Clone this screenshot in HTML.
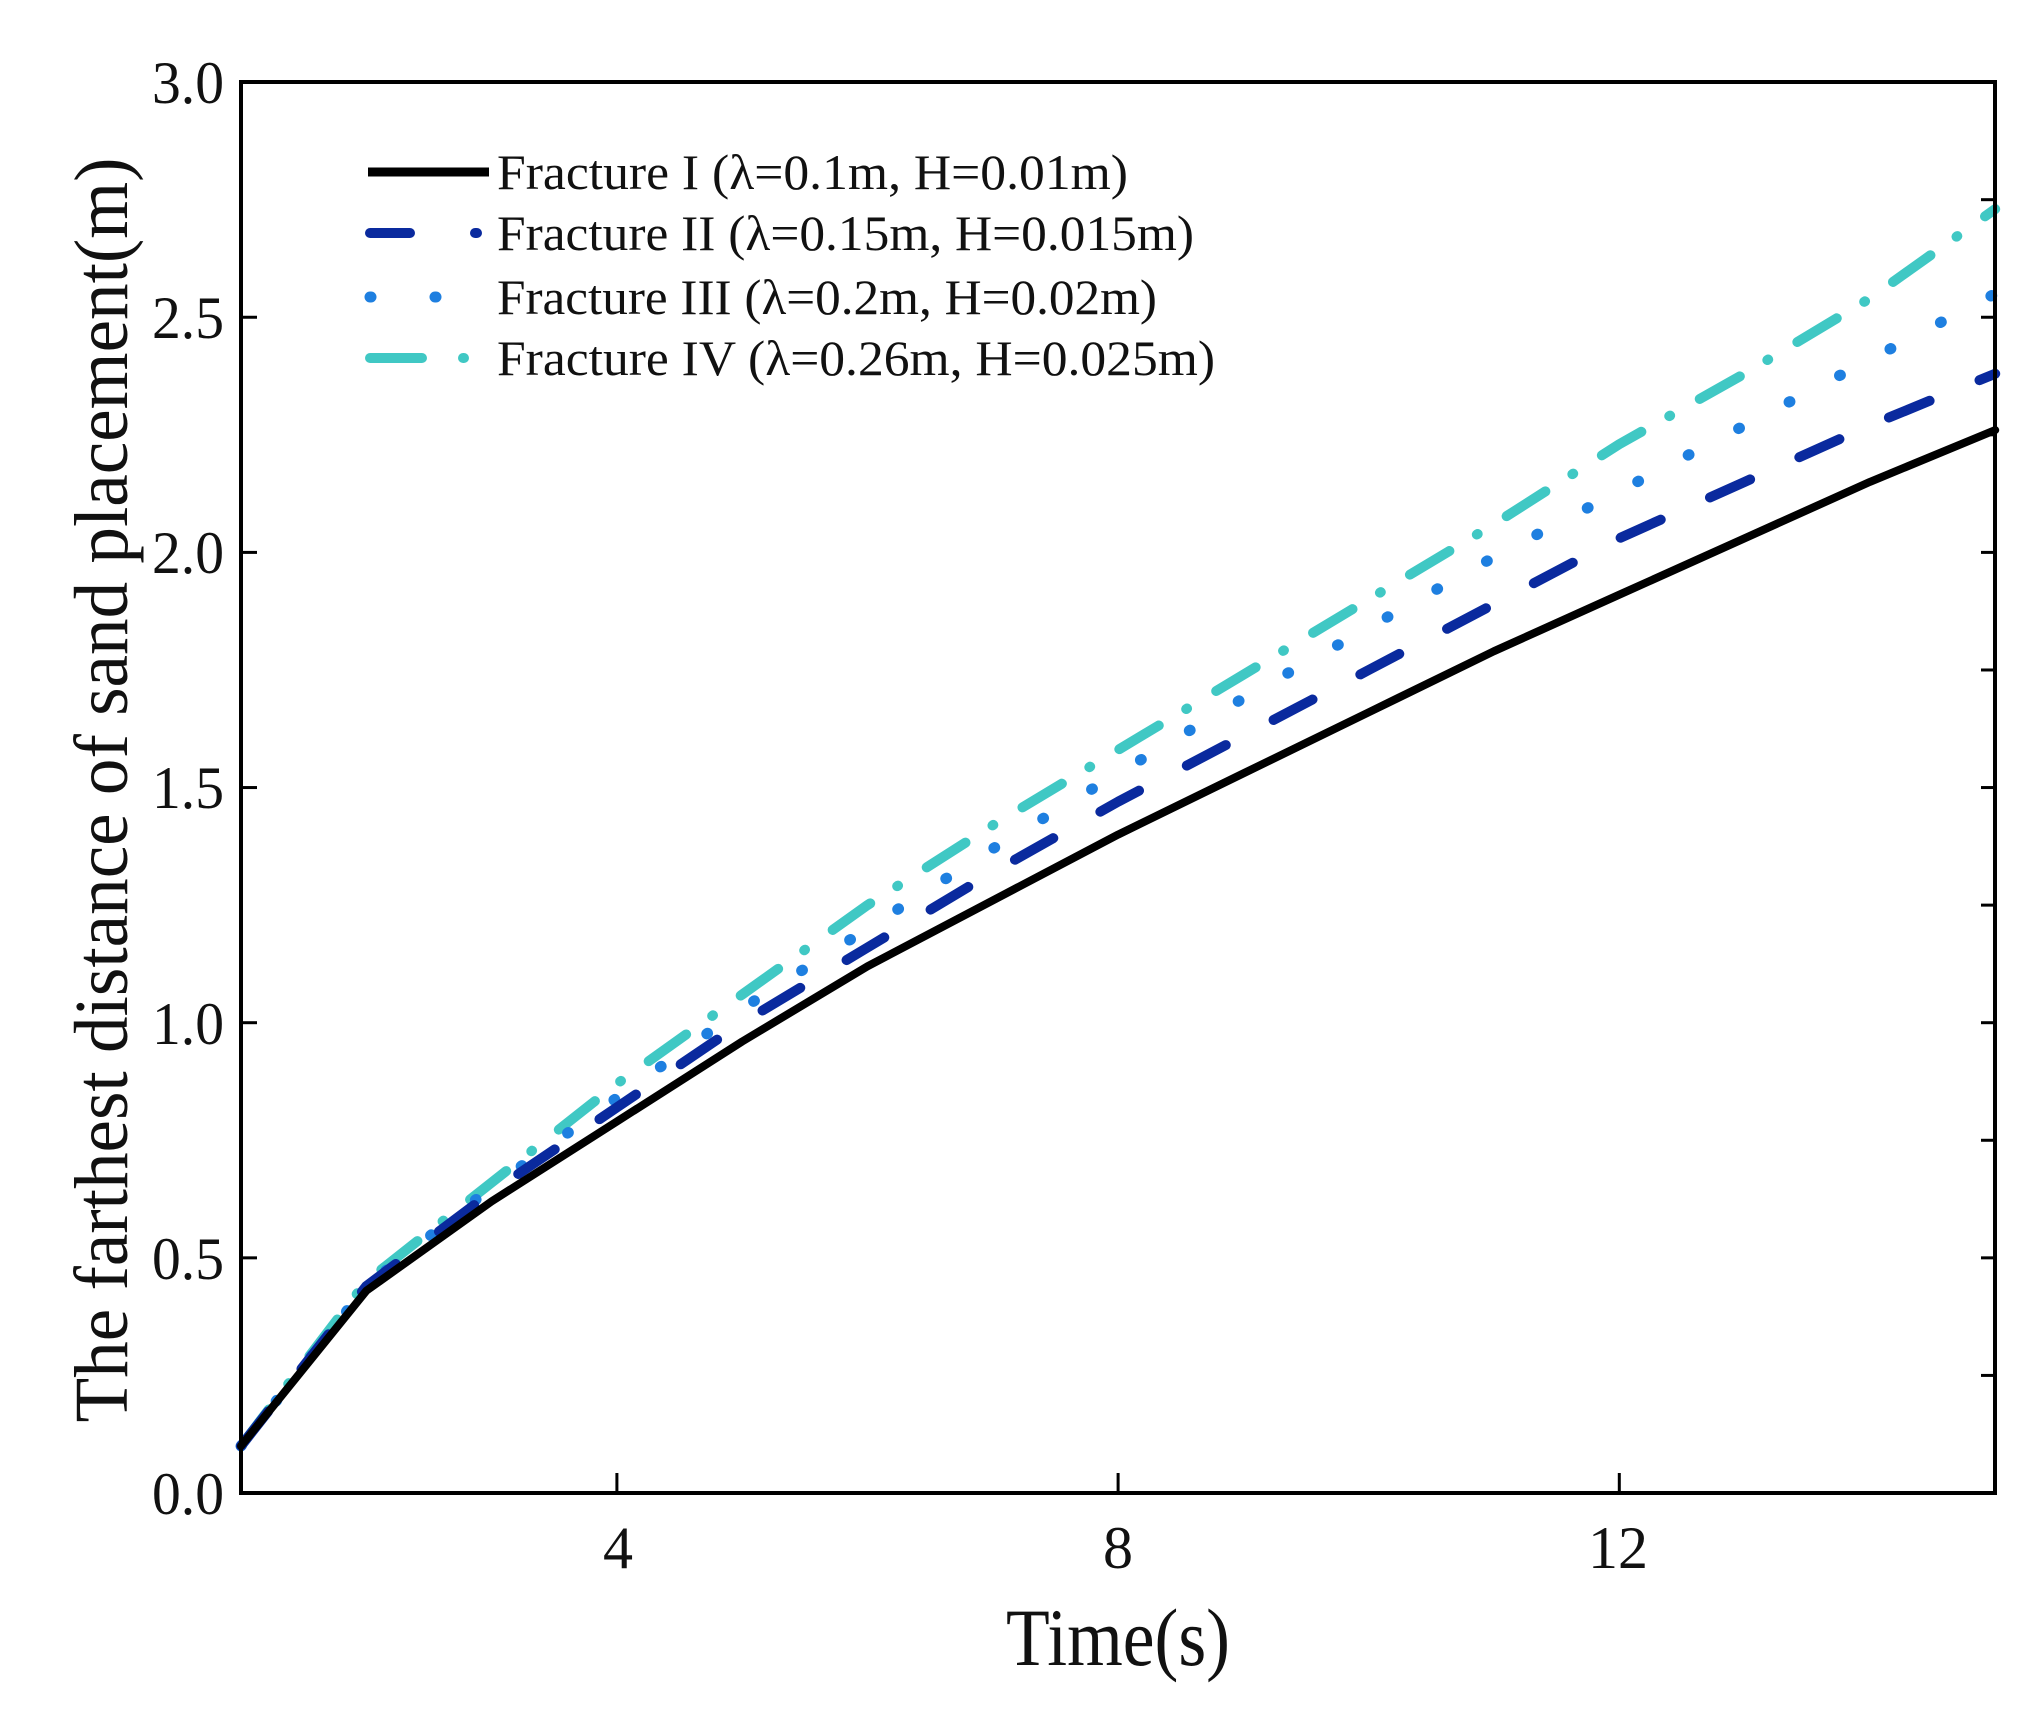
<!DOCTYPE html>
<html><head><meta charset="utf-8"><style>
html,body{margin:0;padding:0;background:#fff;}
svg{display:block;font-family:"Liberation Serif",serif;}
</style></head><body>
<svg id="s" width="2035" height="1724" viewBox="0 0 2035 1724" xmlns="http://www.w3.org/2000/svg">
<rect width="2035" height="1724" fill="#fff"/>
<g id="curves"></g>
<rect x="241" y="82" width="1754" height="1411" fill="none" stroke="#000" stroke-width="4"/>
<g id="ticks" stroke="#000" stroke-width="3"></g>
<g font-size="60" text-anchor="end" fill="#111">
<text x="224" y="1514" textLength="72" lengthAdjust="spacingAndGlyphs">0.0</text>
<text x="224" y="1279" textLength="72" lengthAdjust="spacingAndGlyphs">0.5</text>
<text x="224" y="1044" textLength="72" lengthAdjust="spacingAndGlyphs">1.0</text>
<text x="224" y="808" textLength="72" lengthAdjust="spacingAndGlyphs">1.5</text>
<text x="224" y="573" textLength="72" lengthAdjust="spacingAndGlyphs">2.0</text>
<text x="224" y="338" textLength="72" lengthAdjust="spacingAndGlyphs">2.5</text>
<text x="224" y="103" textLength="72" lengthAdjust="spacingAndGlyphs">3.0</text>
</g>
<g font-size="60" text-anchor="middle" fill="#111">
<text x="618" y="1568">4</text>
<text x="1118" y="1568">8</text>
<text x="1618" y="1568">12</text>
</g>
<text x="1118" y="1665" font-size="82" text-anchor="middle" textLength="224" lengthAdjust="spacingAndGlyphs" fill="#111">Time(s)</text>
<text transform="translate(127,790) rotate(-90)" font-size="76" text-anchor="middle" textLength="1265" lengthAdjust="spacingAndGlyphs" fill="#111">The farthest distance of sand placement(m)</text>
<g font-size="50" fill="#111">
<line x1="368" y1="172" x2="489" y2="172" stroke="#000" stroke-width="9"/>
<text x="497" y="189" textLength="631" lengthAdjust="spacingAndGlyphs">Fracture I (λ=0.1m, H=0.01m)</text>
<line x1="370" y1="233" x2="410" y2="233" stroke="#0a2a9e" stroke-width="10" stroke-linecap="round"/>
<line x1="475" y1="233" x2="477" y2="233" stroke="#0a2a9e" stroke-width="10" stroke-linecap="round"/>
<text x="497" y="250" textLength="697" lengthAdjust="spacingAndGlyphs">Fracture II (λ=0.15m, H=0.015m)</text>
<line x1="370" y1="297" x2="371" y2="297" stroke="#1e7fe0" stroke-width="11" stroke-linecap="round"/>
<line x1="435" y1="297" x2="436" y2="297" stroke="#1e7fe0" stroke-width="11" stroke-linecap="round"/>
<text x="497" y="314" textLength="660" lengthAdjust="spacingAndGlyphs">Fracture III (λ=0.2m, H=0.02m)</text>
<line x1="370" y1="358" x2="422" y2="358" stroke="#40c8c4" stroke-width="10" stroke-linecap="round"/>
<line x1="463" y1="358" x2="464" y2="358" stroke="#40c8c4" stroke-width="10" stroke-linecap="round"/>
<text x="497" y="375" textLength="718" lengthAdjust="spacingAndGlyphs">Fracture IV (λ=0.26m, H=0.025m)</text>
</g>
</svg>
<script>
(function(){
var NS="http://www.w3.org/2000/svg";
function X(t){return 241+(t-1)*125.3;}
function Y(v){return 1493-v*470.3;}
var data=[
 {c:"#000",w:8,d:"",v:[0.1,0.43,0.62,0.79,0.96,1.12,1.26,1.40,1.53,1.66,1.79,1.91,2.03,2.15,2.26]},
 {c:"#0a2a9e",w:10,d:"44 54",v:[0.1,0.44,0.64,0.82,1.0,1.16,1.32,1.47,1.61,1.75,1.89,2.03,2.15,2.27,2.38]},
 {c:"#1e7fe0",w:11,d:"1 56",v:[0.1,0.44,0.65,0.84,1.03,1.2,1.37,1.53,1.69,1.84,1.99,2.13,2.27,2.41,2.55]},
 {c:"#40c8c4",w:10,d:"46 32 1 34",v:[0.1,0.45,0.66,0.87,1.06,1.25,1.42,1.58,1.74,1.90,2.06,2.23,2.38,2.54,2.73]}
];
var g=document.getElementById("curves");
for(var i=data.length-1;i>=0;i--){
 var s=data[i],p=[];
 for(var k=0;k<s.v.length;k++)p.push(X(k+1).toFixed(1)+","+Y(s.v[k]).toFixed(1));
 var e=document.createElementNS(NS,"polyline");
 e.setAttribute("points",p.join(" "));
 e.setAttribute("fill","none");e.setAttribute("stroke",s.c);
 e.setAttribute("stroke-width",s.w);
 e.setAttribute("stroke-linecap","round");e.setAttribute("stroke-linejoin","round");
 if(s.d)e.setAttribute("stroke-dasharray",s.d);
 g.appendChild(e);
}
var tg=document.getElementById("ticks");
function ln(a,b,c,d){var e=document.createElementNS(NS,"line");e.setAttribute("x1",a);e.setAttribute("y1",b);e.setAttribute("x2",c);e.setAttribute("y2",d);tg.appendChild(e);}
for(var v=0.5;v<3;v+=0.5){ln(241,Y(v),257,Y(v));}
for(var v=0.25;v<3;v+=0.25){ln(1995,Y(v),1981,Y(v));}
[4,8,12].forEach(function(t){ln(X(t),1493,X(t),1473);});
})();
</script>
</body></html>
